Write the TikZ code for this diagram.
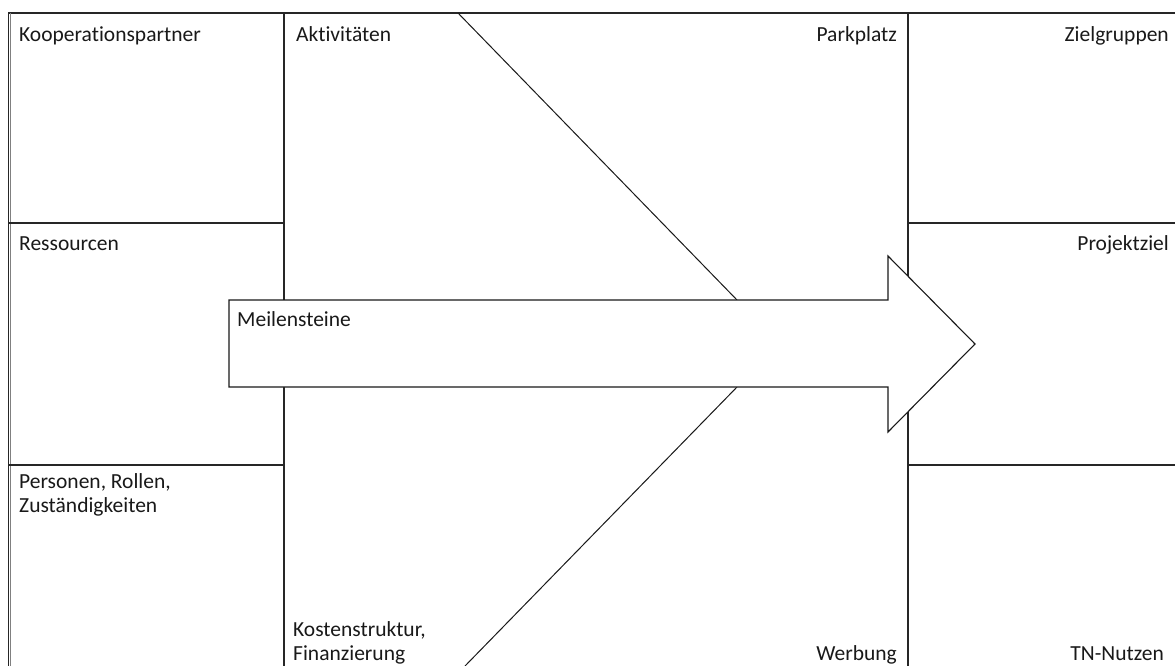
\documentclass[tikz,border=0pt]{standalone}
\usepackage{fontspec}
\setmainfont{Carlito}[Ligatures={NoCommon}]
\begin{document}
\begin{tikzpicture}[x=1pt,y=-1pt,
  gridline/.style={draw=black!85,line width=1.1pt},
  lbl/.style={inner sep=0pt,font=\fontsize{21.5}{24}\selectfont,text=black!90},
  lblL/.style={lbl,anchor=base west,align=left},
  lblR/.style={lbl,anchor=base east,align=right}]
\useasboundingbox[fill=white] (0,0) rectangle (1175,666);
% frame
\draw[gridline] (1175,13) -- (8.5,13) -- (8.5,666);
\draw[black!50,line width=0.8pt] (10.5,13) -- (10.5,666);
% columns
\draw[gridline] (284,13) -- (284,666);
\draw[gridline] (908,13) -- (908,666);
% rows
\draw[gridline] (8.5,223) -- (284,223);
\draw[gridline] (8.5,465) -- (284,465);
\draw[gridline] (908,223) -- (1175,223);
\draw[gridline] (908,465) -- (1175,465);
% diagonals
\coordinate (d1a) at (458,13);
\coordinate (d1b) at (737,300);
\coordinate (d2a) at (737,387);
\coordinate (d2b) at (465,666);
\draw[black!90,line width=1pt] (d1a) -- (d1b);
\draw[black!90,line width=1pt] (d2a) -- (d2b);
% arrow
\draw[black!90,line width=1.1pt,fill=white,line join=miter]
  (229,300) -- (888,300) -- (888,256) -- (975,344) -- (888,432) -- (888,387) -- (229,387) -- cycle;
% labels
\node[lblL] (koop) at (19,42) {Kooperationspartner};
\node[lblL] (akt) at (296,42) {Aktivitäten};
\node[lblR] (park) at (897,42) {Parkplatz};
\node[lblR] (ziel) at (1169,42) {Zielgruppen};
\node[lblL] (ress) at (19,250) {Ressourcen};
\node[lblR] (proj) at (1169,250) {Projektziel};
\node[lblL] (meil) at (237,326) {Meilensteine};
\node[lblL] (pers) at (19,512) {Personen, Rollen,\\Zuständigkeiten};
\node[lblL] (kost) at (293,660) {Kostenstruktur,\\Finanzierung};
\node[lblR] (werb) at (897,660) {Werbung};
\node[lblR] (tn) at (1164,660) {TN-Nutzen};
\end{tikzpicture}
\end{document}
